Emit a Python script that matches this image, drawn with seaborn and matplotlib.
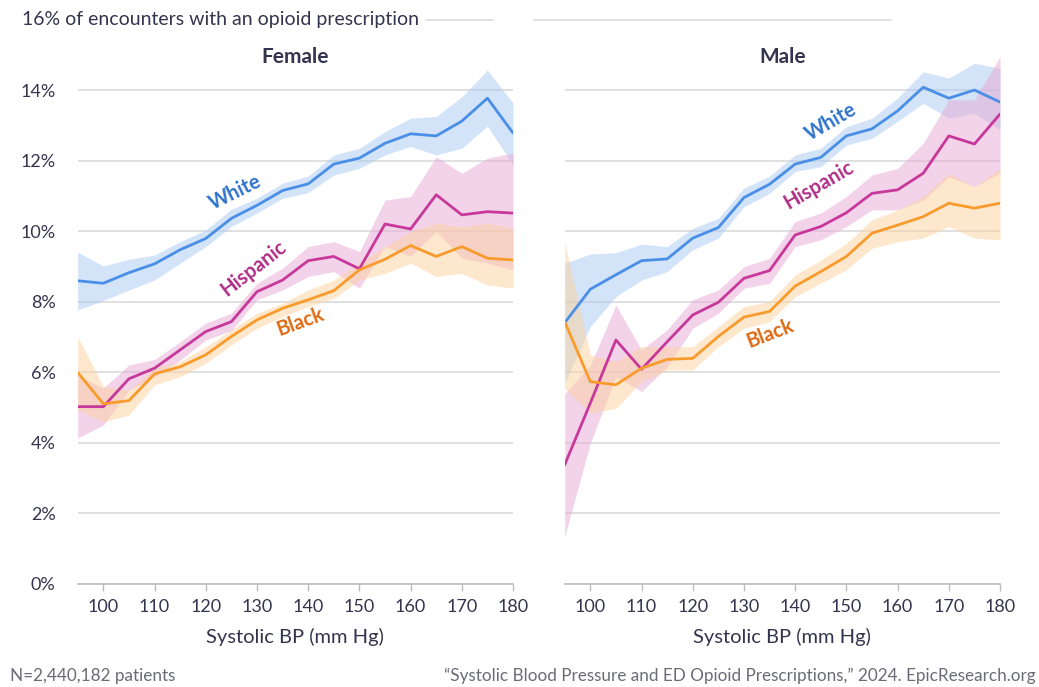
import numpy as np
import pandas as pd
import matplotlib
matplotlib.use("Agg")
import matplotlib.pyplot as plt
import seaborn as sns

# systolic BP bins
bp = [95, 100, 105, 110, 115, 120, 125, 130, 135, 140, 145, 150, 155, 160, 165, 170, 175, 180]

# Female (percent of encounters), line + band
f_white = [8.60, 8.53, 8.83, 9.08, 9.48, 9.80, 10.37, 10.74, 11.16, 11.35, 11.91, 12.08, 12.50, 12.77, 12.71, 13.13, 13.78, 12.79]
f_white_lo = [7.77, 8.04, 8.34, 8.62, 9.10, 9.57, 10.14, 10.52, 10.94, 11.10, 11.60, 11.79, 12.17, 12.41, 12.17, 12.36, 12.99, 11.89]
f_white_hi = [9.41, 9.02, 9.21, 9.33, 9.71, 10.04, 10.63, 10.94, 11.37, 11.57, 12.17, 12.36, 12.83, 13.21, 13.26, 13.82, 14.58, 13.64]

f_hisp = [5.03, 5.03, 5.82, 6.12, 6.64, 7.16, 7.44, 8.29, 8.62, 9.17, 9.29, 8.94, 10.21, 10.07, 11.04, 10.47, 10.56, 10.52]
f_hisp_lo = [4.14, 4.51, 5.50, 5.88, 6.35, 6.92, 7.19, 8.06, 8.34, 8.72, 8.86, 8.39, 9.57, 9.29, 10.00, 9.24, 9.10, 8.91]
f_hisp_hi = [5.90, 5.56, 6.21, 6.37, 6.87, 7.40, 7.68, 8.53, 8.96, 9.57, 9.71, 9.43, 10.89, 10.99, 12.12, 11.65, 12.08, 12.22]

f_black = [6.00, 5.11, 5.20, 5.96, 6.16, 6.50, 7.02, 7.49, 7.82, 8.06, 8.32, 8.91, 9.21, 9.60, 9.29, 9.57, 9.24, 9.19]
f_black_lo = [4.94, 4.60, 4.79, 5.65, 5.88, 6.26, 6.78, 7.25, 7.58, 7.87, 8.10, 8.62, 8.81, 9.10, 8.72, 8.81, 8.48, 8.39]
f_black_hi = [7.02, 5.60, 5.50, 6.12, 6.31, 6.73, 7.21, 7.68, 7.96, 8.34, 8.62, 9.10, 9.57, 10.00, 10.23, 10.14, 10.23, 10.09]

# Male
m_white = [7.41, 8.36, 8.77, 9.17, 9.22, 9.81, 10.11, 10.96, 11.34, 11.91, 12.10, 12.71, 12.91, 13.42, 14.09, 13.78, 14.01, 13.67]
m_white_lo = [5.70, 7.30, 8.15, 8.62, 8.86, 9.48, 9.81, 10.70, 11.08, 11.70, 11.84, 12.45, 12.64, 13.12, 13.64, 13.21, 13.35, 12.88]
m_white_hi = [9.10, 9.36, 9.40, 9.64, 9.57, 10.09, 10.37, 11.23, 11.57, 12.17, 12.36, 12.97, 13.21, 13.78, 14.53, 14.35, 14.77, 14.63]

m_hisp = [3.38, 5.13, 6.92, 6.09, 6.87, 7.63, 7.99, 8.67, 8.89, 9.90, 10.14, 10.53, 11.08, 11.18, 11.65, 12.71, 12.48, 13.33]
m_hisp_lo = [1.34, 3.99, 5.88, 5.46, 6.16, 7.25, 7.68, 8.39, 8.53, 9.57, 9.76, 10.14, 10.61, 10.61, 10.89, 11.55, 11.27, 11.65]
m_hisp_hi = [5.40, 6.20, 7.91, 6.64, 7.21, 8.06, 8.34, 9.00, 9.24, 10.28, 10.52, 10.99, 11.60, 11.79, 12.50, 13.73, 13.73, 14.96]

m_black = [7.44, 5.74, 5.65, 6.12, 6.37, 6.40, 7.02, 7.57, 7.73, 8.45, 8.86, 9.29, 9.95, 10.18, 10.42, 10.80, 10.66, 10.80]
m_black_lo = [5.55, 4.85, 4.98, 5.74, 6.07, 6.07, 6.73, 7.25, 7.44, 8.15, 8.53, 8.91, 9.52, 9.71, 9.81, 10.14, 9.81, 9.76]
m_black_hi = [9.68, 6.50, 6.31, 6.73, 6.73, 6.73, 7.30, 7.87, 8.01, 8.77, 9.19, 9.66, 10.33, 10.61, 10.99, 11.65, 11.27, 11.79]

races = ["White", "Hispanic", "Black"]
line_colors = {"White": "#4a8fe7", "Hispanic": "#c8389a", "Black": "#f99b2c"}
band_colors = {"White": "#a9c9f3", "Hispanic": "#e7a9d6", "Black": "#fdd29f"}
label_colors = {"White": "#2f73cc", "Hispanic": "#b02e86", "Black": "#de6a12"}

# label anchors (x, y, rotation) per panel
label_pos = {
    "Female": {"White": (125.7, 11.1, 26), "Hispanic": (129.4, 8.95, 38), "Black": (138.4, 7.43, 20)},
    "Male": {"White": (147.0, 13.1, 30), "Hispanic": (144.7, 11.32, 30), "Black": (135.2, 7.09, 21)},
}

panels = {
    "Female": {"White": (f_white, f_white_lo, f_white_hi),
               "Hispanic": (f_hisp, f_hisp_lo, f_hisp_hi),
               "Black": (f_black, f_black_lo, f_black_hi)},
    "Male": {"White": (m_white, m_white_lo, m_white_hi),
             "Hispanic": (m_hisp, m_hisp_lo, m_hisp_hi),
             "Black": (m_black, m_black_lo, m_black_hi)},
}

rows = []
for sex, d in panels.items():
    for race in races:
        for x, v in zip(bp, d[race][0]):
            rows.append({"sex": sex, "race": race, "bp": x, "pct": v})
df = pd.DataFrame(rows)

sns.set_style("white")
plt.rcParams["font.family"] = ["Lato", "DejaVu Sans"]
text_col = "#34344f"
grid_col = "#dadada"

fig = plt.figure(figsize=(10.39, 6.87), dpi=100)
axL = fig.add_axes([0.0748, 0.150, 0.419, 0.821])
axR = fig.add_axes([0.5435, 0.150, 0.419, 0.821], sharey=axL)

for ax, sex in [(axL, "Female"), (axR, "Male")]:
    for yv in [0, 2, 4, 6, 8, 10, 12, 14]:
        ax.axhline(yv, color=grid_col, lw=1.2, zorder=0)
    for race in races:
        v, lo, hi = panels[sex][race]
        ax.fill_between(bp, lo, hi, color=band_colors[race], alpha=0.5, lw=0, zorder=1)
    sns.lineplot(data=df[df.sex == sex], x="bp", y="pct", hue="race", hue_order=races,
                 palette=line_colors, legend=False, lw=2, ax=ax, zorder=3)
    for race in races:
        lx, ly, rot = label_pos[sex][race]
        ax.text(lx, ly, race, color=label_colors[race], fontsize=14.5, fontweight="bold",
                rotation=rot, ha="center", va="center", rotation_mode="anchor", zorder=4)
    ax.set_xlim(95, 180)
    ax.set_ylim(0, 16)
    ax.set_xticks([100, 110, 120, 130, 140, 150, 160, 170, 180])
    ax.tick_params(axis="x", length=5, width=1, color="#bdbdbd", labelsize=13,
                   labelcolor=text_col, pad=6, bottom=True)
    ax.set_xlabel("Systolic BP (mm Hg)", fontsize=14.5, color=text_col, labelpad=9)
    ax.set_ylabel("")
    for s in ["top", "right", "left"]:
        ax.spines[s].set_visible(False)
    ax.spines["bottom"].set_color("#bdbdbd")
    ax.spines["bottom"].set_linewidth(1.2)
    ax.set_title(sex, fontsize=15, fontweight="bold", color=text_col, pad=-31, y=1.0)

axL.set_yticks([0, 2, 4, 6, 8, 10, 12, 14])
axL.set_yticklabels([f"{v}%" for v in [0, 2, 4, 6, 8, 10, 12, 14]])
axL.tick_params(axis="y", length=0, labelsize=13, labelcolor=text_col, pad=16)
axR.tick_params(axis="y", left=False, labelleft=False)

# top gridline (16%) partially visible
axL.axhline(16, xmin=0.80, xmax=0.954, color=grid_col, lw=1.2, clip_on=False)
axR.axhline(16, xmin=-0.07, xmax=0.75, color=grid_col, lw=1.2, clip_on=False)

fig.text(0.021, 0.971, "16% of encounters with an opioid prescription", fontsize=14,
         color=text_col, ha="left", va="center")
fig.text(0.010, 0.016, "N=2,440,182 patients", fontsize=12.3, color="#6b6b78", ha="left", va="center")
fig.text(0.997, 0.016, "\u201cSystolic Blood Pressure and ED Opioid Prescriptions,\u201d 2024. EpicResearch.org",
         fontsize=12.3, color="#6b6b78", ha="right", va="center")

fig.savefig("out.png", dpi=100, facecolor="white")
